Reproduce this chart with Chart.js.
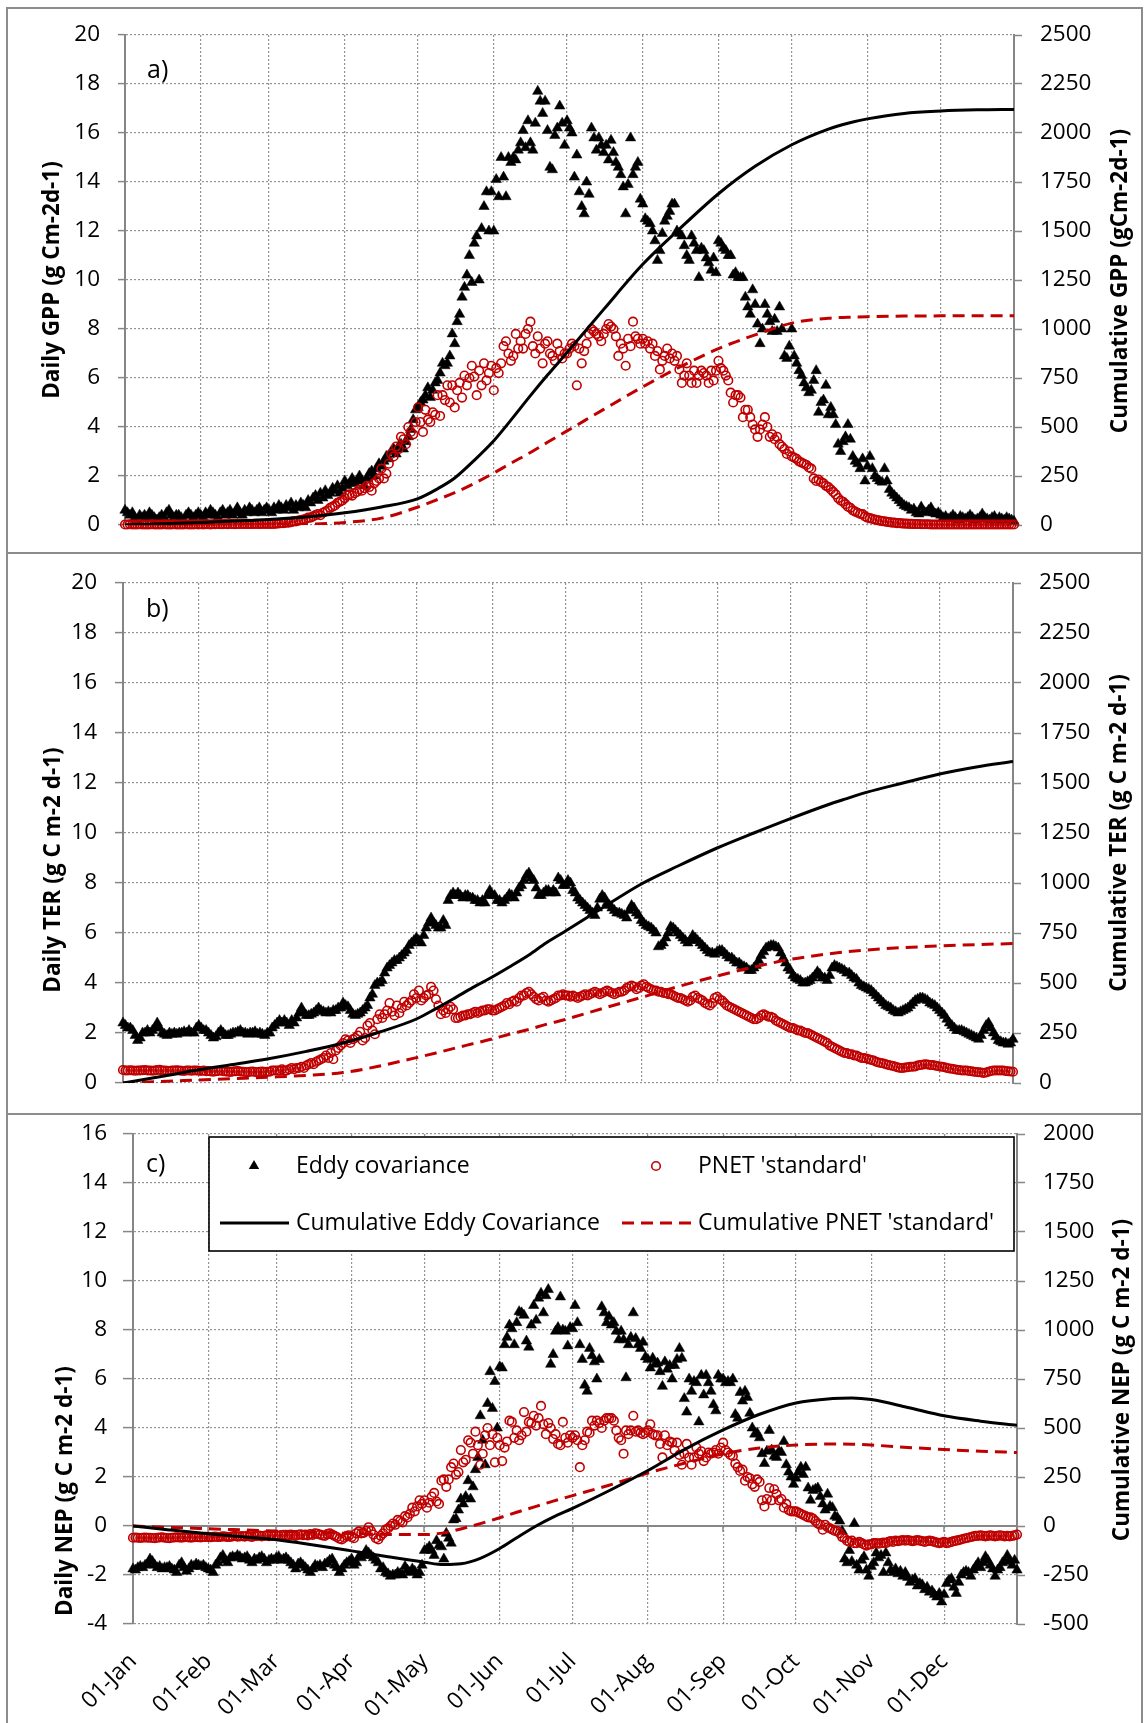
<!DOCTYPE html>
<html><head><meta charset="utf-8">
<script src="https://cdn.jsdelivr.net/npm/chart.js@4.4.1/dist/chart.umd.min.js"></script>
<style>
html,body{margin:0;padding:0;background:#fff;}
body{width:1147px;height:1723px;position:relative;overflow:hidden;}
canvas{position:absolute;left:0;}
.frame{position:absolute;border:2px solid #8c8c8c;box-sizing:border-box;pointer-events:none;}
</style></head><body>
<canvas id="cA" width="1147" height="553" style="top:0px"></canvas>
<canvas id="cB" width="1147" height="561" style="top:553px"></canvas>
<canvas id="cC" width="1147" height="609" style="top:1114px"></canvas>
<div class="frame" style="left:6px;top:7px;width:1137px;height:547px"></div>
<div class="frame" style="left:6px;top:552px;width:1137px;height:563px"></div>
<div class="frame" style="left:6px;top:1113px;width:1137px;height:700px"></div>
<script>
// ---------- categories / ticks ----------
const monthStarts = [0,31,59,90,120,151,181,212,243,273,304,334];
const monthLabels = ['01-Jan','01-Feb','01-Mar','01-Apr','01-May','01-Jun','01-Jul','01-Aug','01-Sep','01-Oct','01-Nov','01-Dec'];
const dayIndex = Array.from({length:365},(_,i)=>i); // day of year (0 = 01-Jan)

// ---------- Daily GPP ----------
const gppEddy = [
0.6,0.5,0.4,0.5,0.3,0.2,0.4,0.3,0.4,0.3,0.5,0.4,0.3,0.2,0.3,0.4,0.3,0.5,0.6,0.4,0.3,0.4,0.4,0.3,0.2,0.4,0.5,0.4,0.3,0.4,0.5,
0.4,0.3,0.5,0.4,0.6,0.5,0.4,0.3,0.5,0.6,0.4,0.5,0.6,0.4,0.5,0.7,0.5,0.4,0.6,0.5,0.7,0.6,0.5,0.6,0.7,0.5,0.6,0.7,
0.6,0.5,0.7,0.6,0.8,0.7,0.6,0.8,0.7,0.9,0.6,0.8,0.7,0.9,0.8,0.7,1.0,0.9,1.1,1.2,1.0,1.3,1.1,1.4,1.2,1.3,1.5,1.4,1.6,1.3,1.5,
1.8,1.6,1.7,1.9,1.7,1.8,2.0,1.8,1.6,1.9,2.1,2.2,2.0,2.3,2.5,2.4,2.6,2.8,2.7,3.0,3.1,2.9,3.2,3.3,3.1,3.4,3.6,3.9,4.3,4.7,
4.8,5.0,5.1,5.3,5.6,5.2,5.5,5.8,5.9,6.2,6.6,6.5,6.6,6.9,7.8,7.4,8.3,8.6,9.3,9.7,10.2,11.0,9.9,11.5,11.8,10.0,12.1,13.0,13.6,12.0,13.6,
12.0,14.1,13.4,15.0,14.2,13.4,15.0,14.8,15.0,14.9,15.3,15.6,16.1,15.4,16.5,15.6,15.3,16.4,17.7,17.3,16.8,17.3,16.1,14.6,14.5,15.9,16.2,17.1,16.4,15.5,
16.5,16.2,16.0,14.2,15.1,13.6,13.0,12.7,14.0,13.5,16.2,15.8,15.3,15.8,15.5,15.2,15.5,14.9,15.7,15.2,14.8,14.6,14.3,13.8,12.7,13.9,15.8,14.3,14.6,14.8,13.3,
13.1,12.5,12.4,12.3,12.0,11.6,10.8,11.2,11.9,12.4,12.6,12.8,13.1,13.1,12.0,11.9,11.8,11.4,11.0,10.8,11.8,11.5,11.2,10.1,11.3,11.2,10.9,10.7,10.4,10.9,10.3,
11.6,11.5,11.3,11.2,11.0,11.0,10.2,10.3,10.1,10.1,10.1,9.3,8.9,8.6,9.6,9.0,8.2,7.4,8.0,9.0,8.6,8.3,7.9,8.4,7.9,8.9,8.0,6.9,6.8,7.3,
8.0,6.9,6.6,6.3,6.1,5.8,5.6,5.4,5.5,5.9,6.3,4.6,5.0,5.1,5.7,4.5,4.8,4.5,4.1,3.3,3.0,3.4,3.6,4.1,3.5,2.8,2.6,2.5,2.3,2.7,1.8,
2.4,2.8,2.3,2.0,1.9,1.8,1.75,2.3,1.8,1.45,1.3,1.2,1.1,1.0,0.9,0.8,0.75,0.7,0.6,0.65,0.5,0.45,0.73,0.55,0.5,0.6,0.7,0.5,0.45,0.5,
0.4,0.3,0.35,0.25,0.3,0.4,0.3,0.2,0.35,0.3,0.25,0.3,0.4,0.3,0.2,0.25,0.3,0.45,0.3,0.25,0.2,0.3,0.35,0.2,0.3,0.25,0.2,0.3,0.25,0.2,0.15];
const gppPnet = [
0.02,0.02,0.03,0.02,0.02,0.02,0.03,0.02,0.02,0.02,0.02,0.03,0.02,0.02,0.02,0.02,0.03,0.02,0.02,0.02,0.03,0.02,0.02,0.02,0.02,0.03,0.02,0.02,0.02,0.03,0.02,
0.03,0.02,0.03,0.03,0.02,0.03,0.03,0.04,0.03,0.03,0.04,0.03,0.04,0.04,0.03,0.04,0.04,0.05,0.04,0.04,0.05,0.04,0.05,0.05,0.04,0.05,0.05,0.05,
0.05,0.05,0.05,0.06,0.07,0.08,0.08,0.1,0.1,0.12,0.15,0.15,0.18,0.2,0.22,0.25,0.3,0.3,0.35,0.4,0.45,0.4,0.5,0.55,0.6,0.7,0.75,0.8,0.9,0.95,1.0,
1.1,1.2,1.25,1.2,1.3,1.35,1.45,1.4,1.5,1.6,1.55,1.4,1.7,1.8,1.9,2.3,1.9,2.1,2.5,2.9,2.8,3.2,3.1,3.6,3.5,3.3,4.0,3.8,3.7,4.2,
4.8,4.2,3.8,4.7,4.3,4.2,4.6,4.5,5.3,4.45,5.3,5.1,5.7,5.0,5.7,4.8,5.5,5.8,5.2,6.1,5.7,6.0,6.5,6.06,5.3,6.3,5.7,6.6,5.9,6.2,6.5,
5.5,6.4,6.2,6.6,7.3,7.5,7.0,6.7,6.9,7.8,7.2,7.5,7.2,7.8,8.0,8.3,7.3,7.0,7.7,7.2,6.6,7.4,7.5,7.0,6.9,6.7,7.4,7.1,6.8,7.0,
7.0,7.2,7.4,7.3,5.7,7.2,6.6,7.1,7.4,7.8,8.0,7.9,7.8,7.7,7.5,7.8,8.0,8.2,8.1,8.0,7.7,6.9,7.4,7.2,6.5,7.6,7.3,8.3,7.7,7.6,7.4,
7.6,7.4,7.5,7.2,7.4,6.9,7.1,6.35,6.7,6.9,7.2,6.8,7.0,6.7,6.9,6.35,5.8,6.1,6.6,6.1,5.8,6.3,5.8,6.1,6.3,6.2,6.1,5.8,6.3,5.9,6.3,
6.7,6.4,6.3,6.1,5.9,5.4,5.0,5.3,5.3,5.2,4.4,4.7,4.7,4.4,4.1,3.9,3.6,3.9,4.1,4.4,4.0,3.6,3.7,3.5,3.6,3.3,3.2,3.1,2.9,3.0,
2.8,2.75,2.7,2.6,2.55,2.5,2.45,2.35,2.3,1.9,1.8,1.85,1.75,1.7,1.6,1.55,1.45,1.35,1.25,1.1,1.0,0.95,0.85,0.75,0.7,0.6,0.55,0.5,0.45,0.44,0.35,
0.3,0.28,0.25,0.22,0.2,0.18,0.16,0.15,0.13,0.12,0.1,0.1,0.08,0.08,0.07,0.06,0.06,0.05,0.05,0.04,0.04,0.04,0.03,0.03,0.03,0.03,0.02,0.02,0.02,0.02,
0.02,0.02,0.02,0.02,0.02,0.02,0.02,0.02,0.02,0.02,0.02,0.02,0.02,0.02,0.02,0.02,0.02,0.02,0.02,0.02,0.02,0.02,0.02,0.02,0.02,0.02,0.02,0.02,0.02,0.02,0.02];

// ---------- Daily TER ----------
const terEddy = [
2.4,2.3,2.2,2.2,2.1,1.9,1.7,1.8,2.0,2.0,2.1,2.0,2.1,2.2,2.4,2.2,2.0,1.95,1.9,2.0,1.95,2.0,1.95,2.0,2.0,2.05,2.0,2.1,2.0,2.0,2.2,
2.3,2.2,2.1,2.1,2.0,1.9,1.8,1.85,2.0,2.1,2.0,1.9,1.9,1.95,2.0,2.0,2.05,2.1,2.0,2.0,1.95,2.0,2.0,2.05,1.95,2.0,1.95,1.9,
2.0,2.0,2.2,2.3,2.4,2.5,2.4,2.5,2.4,2.3,2.5,2.4,2.6,2.8,3.0,2.8,2.7,2.7,2.75,2.8,2.9,3.0,2.9,2.85,2.8,2.85,2.8,2.9,2.9,3.0,3.0,
3.2,3.1,3.05,2.9,2.75,2.7,2.75,2.8,2.9,3.0,3.1,3.4,3.55,3.9,4.0,4.0,4.1,4.4,4.6,4.7,4.8,4.9,4.9,5.0,5.1,5.2,5.3,5.5,5.6,5.7,
5.8,5.7,5.6,5.9,6.2,6.4,6.6,6.4,6.3,6.2,6.2,6.5,6.3,7.3,7.5,7.6,7.5,7.6,7.5,7.4,7.5,7.5,7.4,7.4,7.3,7.3,7.2,7.3,7.2,7.5,7.7,
7.5,7.5,7.3,7.3,7.2,7.3,7.4,7.55,7.5,7.4,7.6,7.8,7.9,8.1,8.3,8.4,8.2,8.1,7.8,7.5,7.5,7.6,7.7,7.7,7.6,7.7,7.6,8.2,8.1,7.9,
7.9,8.1,8.0,7.7,7.6,7.4,7.3,7.2,7.1,7.0,6.9,6.8,6.7,7.0,7.35,7.5,7.4,7.2,7.1,7.0,6.9,6.8,6.8,6.75,6.7,6.6,6.9,7.1,7.0,6.8,6.7,
6.5,6.4,6.3,6.25,6.2,6.1,6.0,5.45,5.5,5.6,5.8,6.0,6.25,6.2,6.1,6.0,5.9,5.8,5.7,5.6,5.7,5.9,5.8,5.7,5.6,5.5,5.4,5.3,5.2,5.2,5.15,
5.25,5.3,5.3,5.2,5.1,5.0,5.0,4.9,4.8,4.8,4.7,4.65,4.6,4.5,4.5,4.6,4.7,4.9,5.1,5.25,5.4,5.45,5.5,5.5,5.45,5.4,5.2,5.0,4.8,4.6,
4.5,4.3,4.2,4.15,4.1,4.0,4.0,4.05,4.1,4.2,4.3,4.45,4.35,4.2,4.2,4.1,4.3,4.6,4.7,4.65,4.6,4.55,4.5,4.4,4.4,4.3,4.2,4.15,4.0,3.9,3.85,
3.8,3.75,3.7,3.6,3.5,3.4,3.3,3.2,3.1,3.05,3.0,2.9,2.85,2.8,2.85,2.9,2.95,3.0,3.1,3.2,3.3,3.35,3.4,3.4,3.35,3.3,3.2,3.15,3.1,3.0,
2.9,2.8,2.7,2.55,2.4,2.3,2.2,2.1,2.1,2.1,2.05,2.0,1.95,1.9,1.85,1.8,1.75,1.9,2.1,2.3,2.4,2.2,2.0,1.85,1.7,1.65,1.6,1.6,1.55,1.6,1.75];
const terPnet = [
0.52,0.5,0.5,0.51,0.5,0.49,0.5,0.5,0.51,0.52,0.5,0.5,0.49,0.5,0.52,0.53,0.5,0.5,0.49,0.48,0.5,0.5,0.51,0.5,0.49,0.48,0.5,0.5,0.49,0.5,0.5,
0.49,0.48,0.5,0.47,0.48,0.46,0.45,0.47,0.48,0.5,0.47,0.46,0.45,0.44,0.46,0.47,0.48,0.46,0.45,0.44,0.43,0.45,0.46,0.44,0.43,0.45,0.46,0.44,
0.45,0.45,0.5,0.5,0.5,0.5,0.55,0.5,0.5,0.55,0.6,0.55,0.6,0.6,0.65,0.6,0.7,0.75,0.8,0.75,0.85,0.9,0.95,1.0,1.1,1.0,1.2,0.95,1.3,1.4,1.5,
1.6,1.75,1.7,1.6,1.75,1.8,1.9,2.05,1.7,1.8,2.3,2.4,2.1,1.95,2.55,2.75,2.6,2.75,2.9,3.2,2.85,2.7,3.1,2.8,3.0,3.25,3.1,3.2,3.3,3.55,
3.4,3.7,3.3,3.4,3.5,3.55,3.85,3.7,3.35,3.1,2.75,2.9,2.8,2.95,3.05,2.95,2.6,2.6,2.65,2.7,2.7,2.75,2.75,2.8,2.85,2.8,2.85,2.9,2.9,2.95,2.95,
2.9,2.9,2.95,3.0,3.05,3.1,3.2,3.15,3.25,3.3,3.25,3.4,3.5,3.5,3.6,3.65,3.55,3.45,3.35,3.3,3.4,3.45,3.3,3.25,3.3,3.35,3.4,3.5,3.5,3.55,
3.5,3.5,3.45,3.5,3.45,3.4,3.45,3.5,3.55,3.5,3.55,3.6,3.65,3.6,3.55,3.6,3.65,3.7,3.65,3.6,3.55,3.6,3.65,3.65,3.7,3.8,3.85,3.9,3.85,3.75,3.8,
3.9,3.95,3.85,3.8,3.75,3.7,3.7,3.65,3.65,3.6,3.6,3.55,3.55,3.5,3.45,3.4,3.4,3.35,3.3,3.25,3.3,3.45,3.5,3.4,3.35,3.3,3.2,3.15,3.1,3.2,3.4,
3.45,3.35,3.3,3.2,3.1,3.05,3.0,2.95,2.9,2.85,2.8,2.75,2.7,2.65,2.6,2.55,2.55,2.6,2.7,2.75,2.7,2.65,2.65,2.6,2.5,2.45,2.4,2.35,2.3,2.25,
2.2,2.2,2.15,2.1,2.1,2.05,2.0,2.0,1.95,1.9,1.85,1.8,1.75,1.7,1.65,1.6,1.5,1.45,1.4,1.35,1.3,1.25,1.2,1.2,1.15,1.15,1.1,1.1,1.05,1.0,1.0,
0.98,0.95,0.92,0.9,0.85,0.82,0.8,0.78,0.75,0.72,0.7,0.68,0.65,0.62,0.6,0.6,0.62,0.63,0.65,0.65,0.66,0.7,0.72,0.73,0.75,0.74,0.72,0.72,0.7,0.68,
0.66,0.65,0.63,0.6,0.58,0.57,0.55,0.53,0.52,0.5,0.5,0.5,0.48,0.47,0.45,0.44,0.43,0.42,0.4,0.42,0.45,0.48,0.5,0.5,0.5,0.5,0.5,0.48,0.47,0.46,0.45];

// ---------- Daily NEP ----------
const nepEddy = [
-1.75,-1.8,-1.7,-1.65,-1.7,-1.6,-1.55,-1.35,-1.45,-1.6,-1.7,-1.65,-1.75,-1.7,-1.7,-1.65,-1.75,-1.8,-1.9,-1.6,-1.5,-1.7,-1.85,-1.75,-1.6,-1.65,-1.55,-1.6,-1.65,-1.6,-1.7,
-1.75,-1.8,-1.9,-1.6,-1.5,-1.3,-1.2,-1.4,-1.5,-1.3,-1.25,-1.3,-1.2,-1.25,-1.35,-1.3,-1.25,-1.4,-1.5,-1.35,-1.4,-1.3,-1.25,-1.35,-1.5,-1.4,-1.35,-1.4,
-1.3,-1.25,-1.4,-1.35,-1.3,-1.4,-1.5,-1.6,-1.75,-1.55,-1.5,-1.6,-1.7,-1.8,-1.9,-1.75,-1.6,-1.65,-1.6,-1.7,-1.55,-1.5,-1.4,-1.35,-1.6,-1.7,-1.9,-1.75,-1.6,-1.5,-1.45,
-1.35,-1.6,-1.5,-1.25,-1.3,-1.2,-1.0,-1.1,-1.2,-1.3,-1.4,-1.5,-1.75,-1.7,-1.9,-1.95,-2.05,-2.0,-2.0,-1.9,-1.95,-2.0,-1.65,-1.8,-1.9,-1.75,-1.85,-2.0,-1.9,-1.6,
-1.0,-0.95,-0.85,-1.0,-1.2,-0.6,-0.8,-0.85,-1.35,-0.3,-0.5,-0.7,0.25,0.3,0.65,1.1,0.9,1.2,1.85,1.1,1.6,2.3,2.8,4.5,3.5,2.5,5.0,6.3,4.8,5.9,4.0,
6.5,6.45,7.4,7.7,8.2,8.05,7.4,8.3,8.75,8.7,8.6,7.55,7.3,8.2,9.0,8.4,9.3,9.5,8.7,9.4,9.65,6.6,7.0,7.95,8.1,9.35,8.0,7.95,7.35,8.1,
8.05,9.0,8.3,7.4,6.8,5.75,5.5,7.25,6.95,6.7,6.0,6.8,8.95,8.7,8.3,8.55,8.2,8.3,7.95,7.6,7.95,7.6,6.05,7.4,7.7,8.7,7.65,7.4,7.25,7.5,6.9,
6.8,6.45,6.85,6.6,6.65,6.3,5.7,6.7,6.4,6.55,6.0,6.55,6.8,7.25,6.85,5.2,4.65,6.0,5.5,5.9,5.85,4.25,6.15,5.35,6.15,5.85,5.5,4.95,4.7,6.15,6.0,
6.0,5.85,5.9,5.85,6.0,4.55,4.4,5.45,5.1,5.5,5.25,4.6,4.0,3.75,3.8,3.6,2.95,2.55,3.05,3.9,3.1,2.85,2.8,3.05,3.0,3.45,2.5,2.2,2.0,1.7,
1.95,2.2,2.4,2.1,2.4,1.55,1.05,1.45,1.5,1.55,1.2,0.9,0.65,1.3,0.8,0.75,0.4,0.35,0.2,-0.2,-1.35,-1.5,-1.0,-1.45,0.1,-1.6,-1.8,-1.4,-1.25,-1.8,-2.05,
-1.65,-1.5,-1.1,-1.3,-1.2,-1.9,-1.1,-1.5,-1.8,-1.9,-1.75,-1.95,-1.85,-2.05,-1.9,-2.1,-2.3,-2.2,-2.15,-2.45,-2.35,-2.4,-2.6,-2.5,-2.7,-2.65,-2.8,-2.9,-2.75,-3.1,
-2.8,-2.35,-2.2,-2.15,-2.5,-2.75,-2.3,-2.0,-1.9,-1.85,-1.9,-2.05,-1.8,-1.65,-1.5,-1.7,-1.5,-1.25,-1.4,-1.6,-1.75,-2.05,-1.8,-1.7,-1.5,-1.45,-1.2,-1.4,-1.6,-1.4,-1.8];
const nepPnet = [
-0.48,-0.47,-0.48,-0.49,-0.48,-0.47,-0.48,-0.48,-0.49,-0.5,-0.48,-0.47,-0.46,-0.48,-0.49,-0.5,-0.48,-0.47,-0.46,-0.47,-0.48,-0.46,-0.45,-0.47,-0.48,-0.46,-0.45,-0.46,-0.47,-0.45,-0.44,
-0.45,-0.46,-0.44,-0.43,-0.45,-0.44,-0.42,-0.43,-0.45,-0.44,-0.42,-0.4,-0.43,-0.42,-0.41,-0.43,-0.4,-0.42,-0.44,-0.41,-0.4,-0.39,-0.42,-0.4,-0.38,-0.41,-0.39,-0.4,
-0.38,-0.4,-0.37,-0.36,-0.39,-0.38,-0.35,-0.37,-0.4,-0.36,-0.34,-0.37,-0.35,-0.38,-0.33,-0.36,-0.3,-0.32,-0.35,-0.38,-0.4,-0.33,-0.3,-0.35,-0.4,-0.45,-0.52,-0.55,-0.48,-0.4,-0.38,
-0.45,-0.5,-0.3,-0.22,-0.3,-0.28,-0.2,-0.05,-0.2,-0.35,-0.5,-0.55,-0.4,-0.3,-0.15,-0.1,0.0,0.1,0.05,0.25,0.2,0.15,0.4,0.35,0.5,0.75,0.6,0.8,1.05,0.9,
1.05,0.75,0.95,1.2,1.35,1.0,0.9,1.85,1.9,1.6,1.9,2.4,2.55,2.1,2.2,3.1,2.6,2.7,3.5,3.4,2.95,3.85,3.3,2.5,2.95,3.7,4.0,3.3,3.75,2.6,3.6,
3.3,2.65,3.2,3.45,4.3,4.25,3.6,3.9,3.5,3.7,4.65,3.85,4.25,4.2,4.5,4.1,4.4,4.9,4.15,3.75,4.2,4.0,3.55,3.75,3.35,3.3,4.25,3.6,3.4,3.7,
3.6,3.7,3.5,2.4,3.3,3.5,3.85,3.8,4.3,4.1,4.3,4.2,4.0,4.3,4.4,4.4,4.4,4.3,3.9,3.6,3.5,2.95,3.9,3.75,3.9,4.5,3.85,3.9,3.8,3.75,3.8,
3.9,4.15,3.75,3.7,3.7,3.35,2.8,3.7,3.3,3.45,3.4,3.1,3.4,2.9,2.5,2.95,3.35,2.8,2.5,2.8,3.2,2.95,3.05,2.65,2.8,3.0,2.95,3.0,3.1,2.95,3.2,
3.4,3.1,3.0,2.9,2.85,2.55,2.4,2.25,2.3,1.85,2.0,1.95,1.7,1.6,1.9,1.8,1.05,0.8,1.1,1.55,1.05,1.5,1.3,1.05,1.1,0.75,0.9,0.65,0.6,0.6,
0.6,0.55,0.5,0.45,0.4,0.35,0.35,0.3,0.2,0.1,0.05,-0.15,0.05,-0.05,-0.1,-0.15,-0.2,-0.2,-0.3,-0.45,-0.5,-0.6,-0.65,-0.6,-0.7,-0.7,-0.65,-0.7,-0.75,-0.8,-0.75,
-0.75,-0.7,-0.7,-0.72,-0.7,-0.68,-0.7,-0.65,-0.62,-0.65,-0.6,-0.62,-0.6,-0.58,-0.6,-0.58,-0.6,-0.62,-0.6,-0.58,-0.6,-0.62,-0.65,-0.62,-0.6,-0.62,-0.65,-0.68,-0.7,-0.68,
-0.65,-0.7,-0.68,-0.65,-0.62,-0.6,-0.58,-0.55,-0.52,-0.5,-0.48,-0.45,-0.42,-0.4,-0.4,-0.38,-0.4,-0.42,-0.4,-0.38,-0.4,-0.42,-0.4,-0.38,-0.4,-0.42,-0.4,-0.42,-0.4,-0.38,-0.35];

// ---------- Cumulative curves (read at these days) ----------
const cumDays      = [0,15,31,45,59,75,90,105,120,128,135,143,151,158,166,173,181,196,212,227,243,258,273,288,296,304,319,334,349,364];
const gppEddyCum   = [0,6,13,20,28,42,62,92,135,185,240,330,430,535,660,765,880,1100,1330,1510,1690,1830,1940,2020,2050,2072,2100,2112,2118,2120];
const gppPnetCum   = [0,0.3,0.7,1.2,1.9,4,13,35,92,130,165,212,265,315,370,422,480,590,705,805,900,970,1030,1055,1060,1063,1066,1067,1067,1067];
const terEddyCum   = [0,31,66,93,120,158,200,255,320,372,420,477,530,580,640,700,760,875,995,1085,1175,1250,1322,1390,1422,1453,1500,1545,1580,1607];
const terPnetCum   = [0,7,15,22,29,38,52,85,127,150,172,196,220,244,268,293,318,372,428,482,535,580,618,645,656,665,677,685,692,697];
const nepEddyCum   = [0,-20,-40,-55,-70,-98,-127,-157,-185,-197,-193,-165,-115,-60,0,45,90,180,283,390,490,570,628,650,653,645,605,562,535,514];
const nepPnetCum   = [0,-7,-14,-20,-26,-32,-38,-43,-44,-35,-15,12,42,70,100,127,155,208,270,320,368,398,413,418,417,413,401,390,382,375];

const RED = '#C00000';
const FONT = "'Open Sans', 'DejaVu Sans', sans-serif";
Chart.defaults.font.family = FONT;
Chart.defaults.font.size = 22.5;
Chart.defaults.color = '#000';

function xy(xs, ys){ return xs.map((x,i)=>({x:x, y:ys[i]})); }

const decorPlugin = {
  id:'decor',
  beforeDatasetsDraw(chart, args, o){
    const ctx = chart.ctx;
    if (o.zeroLine){
      const ys = chart.scales.y, xs = chart.scales.x;
      const y0 = Math.round(ys.getPixelForValue(0));
      ctx.save();
      ctx.strokeStyle = '#868686'; ctx.lineWidth = 2;
      ctx.beginPath(); ctx.moveTo(chart.chartArea.left, y0); ctx.lineTo(chart.chartArea.right, y0); ctx.stroke();
      ctx.lineWidth = 1.5;
      monthStarts.concat([364]).forEach(m=>{
        const px = Math.round(xs.getPixelForValue(m));
        ctx.beginPath(); ctx.moveTo(px, y0); ctx.lineTo(px, y0+6); ctx.stroke();
      });
      ctx.restore();
    }
  },
  afterDraw(chart, args, o){
    const ctx = chart.ctx;
    ctx.save();
    ctx.fillStyle = '#000';
    ctx.font = "25px " + FONT;
    ctx.textAlign = 'left'; ctx.textBaseline = 'alphabetic';
    ctx.fillText(o.label, o.labelPos[0], o.labelPos[1]);
    ctx.font = "bold 22.5px " + FONT;
    ctx.textAlign = 'center'; ctx.textBaseline = 'middle';
    [o.leftTitle, o.rightTitle].forEach(t=>{
      ctx.save(); ctx.translate(t.x, t.y); ctx.rotate(-Math.PI/2);
      ctx.fillText(t.text, 0, 0); ctx.restore();
    });
    if (o.legend){
      const L = o.legend;
      ctx.fillStyle = '#fff';
      ctx.fillRect(L.left, L.top, L.right-L.left, L.bottom-L.top);
      ctx.strokeStyle = '#000'; ctx.lineWidth = 1.6;
      ctx.strokeRect(L.left, L.top, L.right-L.left, L.bottom-L.top);
      ctx.fillStyle = '#000';
      ctx.font = "23px " + FONT;
      ctx.textAlign = 'left'; ctx.textBaseline = 'middle';
      const ds = chart.data.datasets;
      const r = 6, tx = L.triX, ty = L.row1;
      ctx.beginPath();
      ctx.moveTo(tx, ty - r);
      ctx.lineTo(tx + 0.866*r, ty + 0.5*r);
      ctx.lineTo(tx - 0.866*r, ty + 0.5*r);
      ctx.closePath(); ctx.fill();
      ctx.fillText(ds[3].label, L.text1X, L.row1);
      ctx.strokeStyle = RED; ctx.lineWidth = 1.6;
      ctx.beginPath(); ctx.arc(L.cirX, L.row1, 4.3, 0, Math.PI*2); ctx.stroke();
      ctx.fillText(ds[2].label, L.text2X, L.row1);
      ctx.strokeStyle = '#000'; ctx.lineWidth = 3;
      ctx.beginPath(); ctx.moveTo(L.line1[0], L.row2); ctx.lineTo(L.line1[1], L.row2); ctx.stroke();
      ctx.fillText(ds[0].label, L.text1X, L.row2);
      ctx.strokeStyle = RED; ctx.setLineDash([12,7]);
      ctx.beginPath(); ctx.moveTo(L.line2[0], L.row2); ctx.lineTo(L.line2[1], L.row2); ctx.stroke();
      ctx.setLineDash([]);
      ctx.fillText(ds[1].label, L.text2X, L.row2);
    }
    ctx.restore();
  }
};

function noPad(sc){ sc.paddingTop = 0; sc.paddingBottom = 0; sc.paddingLeft = 0; sc.paddingRight = 0; }

function makePanel(id, s){
  const datasets = [
    { label:'Cumulative Eddy Covariance', data: xy(cumDays, s.cumEddy), yAxisID:'y2',
      borderColor:'#000', borderWidth:3, pointRadius:0, cubicInterpolationMode:'monotone', fill:false, order:0 },
    { label:"Cumulative PNET 'standard'", data: xy(cumDays, s.cumPnet), yAxisID:'y2',
      borderColor:RED, borderWidth:3, borderDash:[12,7], pointRadius:0, cubicInterpolationMode:'monotone', fill:false, order:1 },
    { label:"PNET 'standard'", data: xy(dayIndex, s.pnet), yAxisID:'y', showLine:false, clip:false,
      pointStyle:'circle', pointRadius:4.3, pointBorderWidth:1.6, pointBorderColor:RED,
      pointBackgroundColor:'rgba(0,0,0,0)', borderColor:RED, order:2 },
    { label:'Eddy covariance', data: xy(dayIndex, s.eddy), yAxisID:'y', showLine:false, clip:false,
      pointStyle:'triangle', pointRadius:6, pointBorderWidth:0.5, pointBorderColor:'#000',
      pointBackgroundColor:'#000', borderColor:'#000', order:3 }
  ];
  return new Chart(document.getElementById(id), {
    type:'line',
    data:{ datasets },
    plugins:[decorPlugin],
    options:{
      responsive:false, animation:false, events:[], devicePixelRatio:1,
      layout:{ padding:{ top:s.padTop, left:0, right:0, bottom:0 } },
      plugins:{ legend:{display:false}, tooltip:{enabled:false}, decor:s.decor },
      scales:{
        x:{ type:'linear', min:0, max:364, position:'bottom',
          afterBuildTicks(sc){ sc.ticks = monthStarts.map(v=>({value:v})); },
          afterFit(sc){ sc.height = s.xH; noPad(sc); },
          ticks:{ display:s.xLabels, autoSkip:false, maxRotation:45, minRotation:45, padding:s.xPad,
                  font:{size:23}, color:'#000',
                  callback:(v)=> monthLabels[monthStarts.indexOf(v)] },
          grid:{ color:'#949494', lineWidth:1.2, drawTicks:false },
          border:{ display:false, dash:[2,2] } },
        y:{ position:'left', min:s.yMin, max:s.yMax,
          afterFit(sc){ sc.width = s.leftW; noPad(sc); },
          ticks:{ stepSize:2, padding:s.lPad, color:'#000', callback:(v)=>String(v) },
          grid:{ color:'#949494', lineWidth:1.2, drawTicks:true, tickLength:s.lTick,
                 tickColor:'#868686', tickWidth:1.5, tickBorderDash:[] },
          border:{ display:true, color:'#868686', width:2, dash:[2,2] } },
        y2:{ position:'right', min:s.y2Min, max:s.y2Max,
          afterFit(sc){ sc.width = s.rightW; noPad(sc); },
          ticks:{ stepSize:250, padding:18, color:'#000', callback:(v)=>String(v) },
          grid:{ drawOnChartArea:false, drawTicks:true, tickLength:8,
                 tickColor:'#868686', tickWidth:1.5, tickBorderDash:[] },
          border:{ display:true, color:'#868686', width:2 } }
      }
    }
  });
}

makePanel('cA', {
  eddy:gppEddy, pnet:gppPnet, cumEddy:gppEddyCum, cumPnet:gppPnetCum,
  padTop:35, xH:28, xLabels:false, xPad:0, leftW:125, rightW:133, lPad:18, lTick:7,
  yMin:0, yMax:20, y2Min:0, y2Max:2500,
  decor:{ label:'a)', labelPos:[147,78],
    leftTitle:{text:'Daily GPP (g Cm-2d-1)', x:53, y:280},
    rightTitle:{text:'Cumulative GPP (gCm-2d-1)', x:1121, y:281} }
});
makePanel('cB', {
  eddy:terEddy, pnet:terPnet, cumEddy:terEddyCum, cumPnet:terPnetCum,
  padTop:30, xH:31, xLabels:false, xPad:0, leftW:123, rightW:134, lPad:18, lTick:8,
  yMin:0, yMax:20, y2Min:0, y2Max:2500,
  decor:{ label:'b)', labelPos:[146,64],
    leftTitle:{text:'Daily TER (g C m-2 d-1)', x:54, y:317},
    rightTitle:{text:'Cumulative TER (g C m-2 d-1)', x:1120, y:280} }
});
makePanel('cC', {
  eddy:nepEddy, pnet:nepPnet, cumEddy:nepEddyCum, cumPnet:nepPnetCum,
  padTop:20, xH:99, xLabels:true, xPad:24, leftW:133, rightW:130, lPad:16, lTick:10,
  yMin:-4, yMax:16, y2Min:-500, y2Max:2000,
  decor:{ label:'c)', labelPos:[146,58], zeroLine:true,
    leftTitle:{text:'Daily NEP (g C m-2 d-1)', x:66, y:377},
    rightTitle:{text:'Cumulative NEP (g C m-2 d-1)', x:1123, y:266},
    legend:{ left:209, top:23, right:1014, bottom:137, row1:52, row2:109,
             triX:254, cirX:656, text1X:296, text2X:698, line1:[220,289], line2:[622,692] } }
});
</script>
</body></html>
